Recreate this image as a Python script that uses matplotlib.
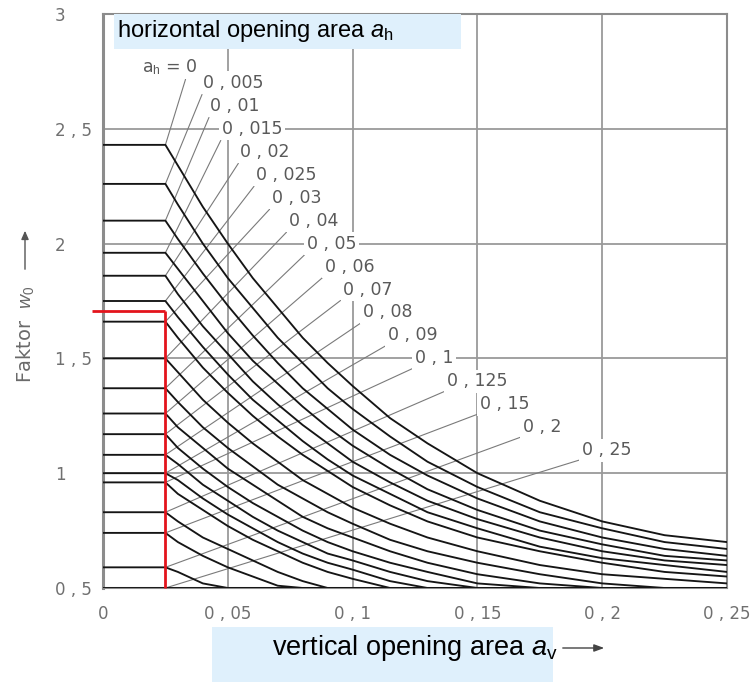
import matplotlib
matplotlib.use("Agg")
import matplotlib.pyplot as plt
from matplotlib.patches import Rectangle, FancyArrowPatch

plt.rcParams['font.family'] = ['DejaVu Sans']
plt.rcParams['mathtext.fontset'] = 'custom'
plt.rcParams['mathtext.rm'] = 'Liberation Sans'
plt.rcParams['mathtext.it'] = 'Liberation Sans:italic'

# ---------------- data ----------------
a_v = [0, 0.025, 0.03, 0.04, 0.05, 0.06, 0.07, 0.08, 0.09, 0.1, 0.115, 0.13,
       0.15, 0.175, 0.2, 0.225, 0.25]

a_h_values = [0, 0.005, 0.01, 0.015, 0.02, 0.025, 0.03, 0.04, 0.05, 0.06,
              0.07, 0.08, 0.09, 0.1, 0.125, 0.15, 0.2, 0.25]
a_h_labels = ["0", "0,005", "0,01", "0,015", "0,02", "0,025", "0,03", "0,04",
              "0,05", "0,06", "0,07", "0,08", "0,09", "0,1", "0,125", "0,15",
              "0,2", "0,25"]

w_000 = [2.43, 2.43, 2.34, 2.16, 2.00, 1.85, 1.72, 1.59, 1.48, 1.38, 1.24, 1.13, 1.00, 0.88, 0.79, 0.73, 0.70]
w_005 = [2.26, 2.26, 2.17, 2.00, 1.85, 1.72, 1.59, 1.48, 1.37, 1.28, 1.16, 1.05, 0.94, 0.83, 0.76, 0.70, 0.67]
w_010 = [2.10, 2.10, 2.02, 1.87, 1.73, 1.60, 1.48, 1.37, 1.28, 1.19, 1.08, 0.99, 0.89, 0.79, 0.72, 0.67, 0.64]
w_015 = [1.96, 1.96, 1.89, 1.75, 1.61, 1.49, 1.39, 1.29, 1.20, 1.12, 1.02, 0.93, 0.84, 0.75, 0.69, 0.64, 0.62]
w_020 = [1.86, 1.86, 1.78, 1.64, 1.52, 1.40, 1.30, 1.21, 1.13, 1.05, 0.96, 0.88, 0.80, 0.72, 0.66, 0.62, 0.60]
w_025 = [1.75, 1.75, 1.68, 1.55, 1.43, 1.32, 1.23, 1.14, 1.06, 0.99, 0.91, 0.83, 0.76, 0.68, 0.63, 0.60, 0.57]
w_030 = [1.66, 1.66, 1.59, 1.46, 1.35, 1.25, 1.16, 1.08, 1.01, 0.94, 0.86, 0.79, 0.72, 0.66, 0.61, 0.57, 0.55]
w_040 = [1.50, 1.50, 1.44, 1.32, 1.22, 1.13, 1.05, 0.97, 0.91, 0.85, 0.78, 0.72, 0.66, 0.60, 0.56, 0.54, 0.52]
w_050 = [1.37, 1.37, 1.31, 1.20, 1.11, 1.03, 0.95, 0.89, 0.83, 0.78, 0.71, 0.66, 0.61, 0.56, 0.52, 0.50, 0.50]
w_060 = [1.26, 1.26, 1.20, 1.11, 1.02, 0.95, 0.88, 0.81, 0.76, 0.72, 0.66, 0.61, 0.56, 0.52, 0.50, 0.50, 0.50]
w_070 = [1.17, 1.17, 1.11, 1.02, 0.94, 0.87, 0.81, 0.75, 0.70, 0.66, 0.61, 0.57, 0.52, 0.50, 0.50, 0.50, 0.50]
w_080 = [1.08, 1.08, 1.04, 0.95, 0.88, 0.81, 0.75, 0.70, 0.65, 0.62, 0.57, 0.53, 0.50, 0.50, 0.50, 0.50, 0.50]
w_090 = [1.00, 1.00, 0.97, 0.89, 0.82, 0.76, 0.70, 0.65, 0.61, 0.58, 0.53, 0.50, 0.50, 0.50, 0.50, 0.50, 0.50]
w_100 = [0.96, 0.96, 0.91, 0.84, 0.77, 0.71, 0.66, 0.61, 0.57, 0.54, 0.50, 0.50, 0.50, 0.50, 0.50, 0.50, 0.50]
w_125 = [0.83, 0.83, 0.79, 0.72, 0.67, 0.62, 0.57, 0.53, 0.50, 0.50, 0.50, 0.50, 0.50, 0.50, 0.50, 0.50, 0.50]
w_150 = [0.74, 0.74, 0.70, 0.64, 0.59, 0.55, 0.51, 0.50, 0.50, 0.50, 0.50, 0.50, 0.50, 0.50, 0.50, 0.50, 0.50]
w_200 = [0.59, 0.59, 0.57, 0.52, 0.50, 0.50, 0.50, 0.50, 0.50, 0.50, 0.50, 0.50, 0.50, 0.50, 0.50, 0.50, 0.50]
w_250 = [0.50, 0.50, 0.50, 0.50, 0.50, 0.50, 0.50, 0.50, 0.50, 0.50, 0.50, 0.50, 0.50, 0.50, 0.50, 0.50, 0.50]

curves = [w_000, w_005, w_010, w_015, w_020, w_025, w_030, w_040, w_050, w_060,
          w_070, w_080, w_090, w_100, w_125, w_150, w_200, w_250]

# knee of each curve (end of plateau) where leader lines point
knee_av = 0.025

# red reading example
red_av = 0.025
red_w = 1.705
red_start = -0.0045

x_ticks = [0, 0.05, 0.1, 0.15, 0.2, 0.25]
x_tick_labels = ["0", "0,05", "0,1", "0,15", "0,2", "0,25"]
y_ticks = [0.5, 1, 1.5, 2, 2.5, 3]
y_tick_labels = ["0,5", "1", "1,5", "2", "2,5", "3"]

# label placement (layout)
label_x = [0.0156, 0.0401, 0.0429, 0.0477, 0.0549, 0.0613, 0.0677, 0.0745,
           0.0817, 0.0889, 0.0962, 0.1042, 0.1142, 0.1250, 0.1378, 0.1510,
           0.1683, 0.1919]
label_y = [2.77, 2.70, 2.60, 2.50, 2.40, 2.30, 2.20, 2.10, 2.00, 1.90, 1.80,
           1.70, 1.60, 1.50, 1.40, 1.30, 1.20, 1.10]


def spaced(s):
    return s.replace(",", " , ")


W, H = 756, 682
fig = plt.figure(figsize=(W / 100, H / 100), dpi=100)
ax = fig.add_axes([103 / W, 1 - 588 / H, (727 - 103) / W, (588 - 14) / H])
ax.set_xlim(0, 0.25)
ax.set_ylim(0.5, 3)

ax.set_xticks(x_ticks)
ax.set_yticks(y_ticks)
ax.set_xticklabels([spaced(s) for s in x_tick_labels])
ax.set_yticklabels([spaced(s) for s in y_tick_labels])
ax.tick_params(axis='both', length=0, labelsize=12, labelcolor='#707070')
ax.tick_params(axis='x', pad=12)
ax.tick_params(axis='y', pad=34.5)
for lab in ax.get_yticklabels():
    lab.set_horizontalalignment('left')
ax.grid(True, color='#9a9a9a', lw=1.3)
ax.set_axisbelow(True)
for sp in ax.spines.values():
    sp.set_color('#8c8c8c')
    sp.set_linewidth(1.5)
ax.spines['left'].set_linewidth(2.2)

# curves
for w in curves:
    ax.plot(a_v, w, color='#151515', lw=1.35, zorder=3, solid_joinstyle='round')

# labels with leader lines
for i, (lab, w) in enumerate(zip(a_h_labels, curves)):
    if i == 0:
        txt = "a$_\\mathrm{h}$ = 0"
        rel = (0.8, 0.0)
    else:
        txt = spaced(lab)
        rel = (0.0, 0.0)
    ax.annotate(txt, xy=(knee_av, w[1]), xytext=(label_x[i], label_y[i]),
                textcoords='data', ha='left', va='center', fontsize=12.5,
                color='#5a5a5a', zorder=2.5,
                bbox=dict(boxstyle='square,pad=0.15', fc='white', ec='none'),
                arrowprops=dict(arrowstyle='-', color='#7a7a7a', lw=0.8,
                                relpos=rel, shrinkA=0, shrinkB=0))

# red reading lines
ax.plot([red_av, red_av], [0.5, red_w], color='#e3141c', lw=2.0, zorder=4,
        clip_on=False, solid_capstyle='butt')
ax.plot([red_start, red_av], [red_w, red_w], color='#e3141c', lw=2.0, zorder=4,
        clip_on=False, solid_capstyle='butt')

# y-axis title with arrow
fig.text(25 / W, 1 - 334 / H, "Faktor  $w_0$", rotation=90, ha='center',
         va='center', fontsize=14, color='#6a6a6a')
fig.patches.append(FancyArrowPatch(
    (25 / W, 1 - 272 / H), (25 / W, 1 - 228 / H), transform=fig.transFigure,
    arrowstyle='-|>,head_length=5,head_width=2.2', color='#555555', lw=1.0,
    mutation_scale=1))

# annotation boxes
fig.patches.append(Rectangle((114 / W, 1 - 49 / H), 347 / W, 35 / H,
                             transform=fig.transFigure, facecolor='#dff0fc',
                             edgecolor='none', zorder=5))
fig.text(117 / W, 1 - 37.5 / H, "horizontal opening area $a_\\mathrm{h}$",
         fontsize=17, family='Liberation Sans', color='black', va='baseline',
         ha='left', zorder=6)
fig.patches.append(Rectangle((212 / W, 0), 341 / W, 55 / H,
                             transform=fig.transFigure, facecolor='#dff0fc',
                             edgecolor='none', zorder=5))
fig.text(272 / W, 1 - 655 / H, "vertical opening area $a_\\mathrm{v}$",
         fontsize=19.5, family='Liberation Sans', color='black', va='baseline',
         ha='left', zorder=6)
fig.patches.append(FancyArrowPatch(
    (560 / W, 1 - 648 / H), (607 / W, 1 - 648 / H), transform=fig.transFigure,
    arrowstyle='-|>,head_length=6,head_width=2.2', color='#444444', lw=1.0,
    mutation_scale=1))

fig.savefig("out.png", dpi=100)
